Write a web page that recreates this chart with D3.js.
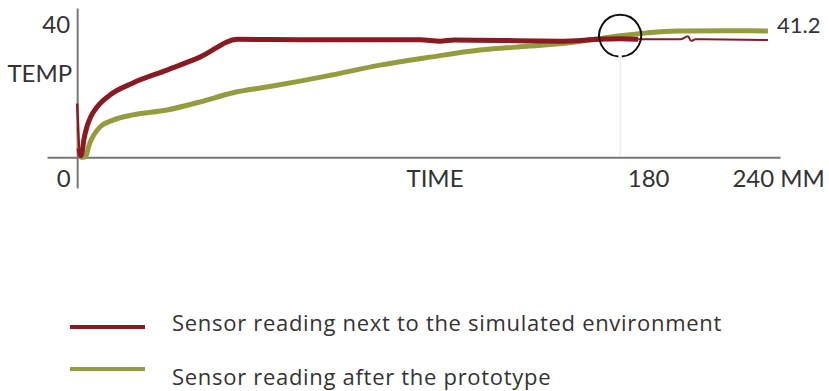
<!DOCTYPE html>
<html>
<head>
<meta charset="utf-8">
<script src="https://cdn.jsdelivr.net/npm/d3@7"></script>
<style>
    body { margin: 0; background: #ffffff; }
    text { font-family: Lato, "Open Sans", sans-serif; fill: #333333; }
</style>
</head>
<body>
<div id="chart"></div>
<script>
'use strict';

// readings: [minutes, temperature]
const redReadings = [
    [0, 17.5], [0.6, 3], [1.2, 0.5], [1.6, 1.4], [2.2, 5.6], [3.2, 9.8], [4.6, 13.4],
    [6.6, 16.4], [10.9, 20.3], [18.5, 24.2], [29.8, 28.4], [40.7, 32.6], [53.3, 38.4],
    [73.9, 38.3], [113.7, 38.3], [120.3, 37.8], [125, 38.2], [160, 37.8], [173.3, 38.4],
    [180, 38.6], [186, 38.4], [200, 38.4], [202.5, 39.4], [203.5, 37.9], [205, 38.4],
    [229, 38.2]
];
const greenReadings = [
    [0, 9.9], [0.5, 2], [1, 0], [2.6, 0.1], [4.2, 4.7], [7.6, 9.9], [11.9, 12.1],
    [18.5, 13.8], [29.8, 15.4], [40.7, 18.0], [51.7, 21.0], [62.9, 22.9], [73.9, 24.8],
    [83.9, 26.7], [100.4, 30.0], [117, 32.6], [133.5, 34.9], [150.1, 36.2], [162.4, 37.2],
    [172.3, 38.5], [179.3, 39.5], [188.9, 40.5], [198.9, 41.1], [215.4, 41.2], [229, 41.1]
];
const xTicks = [0, 180, 240];
const xTickLabels = ['0', '180', '240 MM'];
const yTicks = [40];
const yTickLabels = ['40'];
const xTitle = 'TIME';
const yTitle = 'TEMP';
const endValue = 41.2;
const markedTime = 180;
const seriesNames = ['Sensor reading next to the simulated environment', 'Sensor reading after the prototype'];

const width = 829, height = 391;
const red = '#8a1a21', green = '#949c3e';
const spikeUntil = 0.6;   // start-up spike is drawn thin
const thinFrom = 186;     // red trace gets thin after this

let svg = d3.select('#chart').append('svg')
    .attr('width', width)
    .attr('height', height);

let x = d3.scaleLinear().domain([-10, 233]).range([47, 780]);
let y = d3.scaleLinear().domain([-10, 48.6]).range([188, 8]);

// marker guide line
svg.append('line')
    .attr('x1', x(markedTime)).attr('x2', x(markedTime))
    .attr('y1', y(32.5)).attr('y2', y(0))
    .style('stroke', '#e4e4e4')
    .style('stroke-width', 1);

// x axis
let xAxis = svg.append('g')
    .attr('transform', 'translate(0,' + y(0) + ')')
    .call(d3.axisBottom(x).tickValues(xTicks).tickSize(0)
        .tickFormat(function (d, i) { return xTickLabels[i]; }));
xAxis.select('.domain').style('stroke', '#777777').style('stroke-width', 2);
let xLabelShift = [-14, 28, -23];
xAxis.selectAll('.tick text')
    .attr('y', 0)
    .attr('dy', 30)
    .attr('dx', function (d, i) { return xLabelShift[i]; })
    .style('text-anchor', 'middle')
    .style('font-size', '24px')
    .style('font-family', 'Lato, sans-serif')
    .style('fill', '#333333');

svg.append('text')
    .attr('x', 435)
    .attr('y', y(0) + 30)
    .style('text-anchor', 'middle')
    .style('font-size', '24px')
    .text(xTitle);

// y axis
let yAxis = svg.append('g')
    .attr('transform', 'translate(' + x(0) + ',0)')
    .call(d3.axisLeft(y).tickValues(yTicks).tickSize(0)
        .tickFormat(function (d, i) { return yTickLabels[i]; }));
yAxis.select('.domain').style('stroke', '#777777').style('stroke-width', 2);
yAxis.selectAll('.tick text')
    .attr('x', -7)
    .attr('dy', '-0.1em')
    .style('font-size', '24px')
    .style('font-family', 'Lato, sans-serif')
    .style('fill', '#333333');

svg.append('text')
    .attr('x', x(0) - 5)
    .attr('y', 82)
    .style('text-anchor', 'end')
    .style('font-size', '24px')
    .text(yTitle);

// series
let line = d3.line()
    .x(function (d) { return x(d[0]); })
    .y(function (d) { return y(d[1]); })
    .curve(d3.curveMonotoneX);

function drawTrace(data, color, w) {
    svg.append('path')
        .attr('d', line(data))
        .style('fill', 'none')
        .style('stroke', color)
        .style('stroke-width', w)
        .style('stroke-linejoin', 'round');
}

drawTrace(greenReadings.filter(function (d) { return d[0] <= spikeUntil; }), '#b4ba6a', 2.5);
drawTrace(greenReadings.filter(function (d) { return d[0] >= spikeUntil; }), green, 5);
drawTrace(redReadings.filter(function (d) { return d[0] <= spikeUntil; }), red, 2.5);
drawTrace(redReadings.filter(function (d) { return d[0] >= spikeUntil && d[0] <= thinFrom; }), red, 5);
drawTrace(redReadings.filter(function (d) { return d[0] >= thinFrom; }), red, 2);

// marker circle, open at the bottom
let p = d3.path();
p.arc(x(markedTime), y(39.6), 21, Math.PI / 2 + 0.08, Math.PI / 2 - 0.08 + 2 * Math.PI);
svg.append('path')
    .attr('d', p.toString())
    .style('fill', 'none')
    .style('stroke', '#111111')
    .style('stroke-width', 2);

svg.append('text')
    .attr('x', x(229) + 9)
    .attr('y', 33)
    .style('font-size', '22px')
    .text(endValue);

// legend
let legend = svg.selectAll('.legend').data(seriesNames).enter()
    .append('g')
    .attr('class', 'legend');

let legendY = [327, 369], legendTextY = [331, 385], legendColors = [red, green];

legend.append('line')
    .attr('x1', 70).attr('x2', 145)
    .attr('y1', function (d, i) { return legendY[i]; })
    .attr('y2', function (d, i) { return legendY[i]; })
    .style('stroke', function (d, i) { return legendColors[i]; })
    .style('stroke-width', 4);

legend.append('text')
    .attr('x', 172)
    .attr('y', function (d, i) { return legendTextY[i]; })
    .style('font-family', '"Open Sans", sans-serif')
    .style('font-size', '22px')
    .style('letter-spacing', '0.7px')
    .text(function (d) { return d; });
</script>
</body>
</html>
